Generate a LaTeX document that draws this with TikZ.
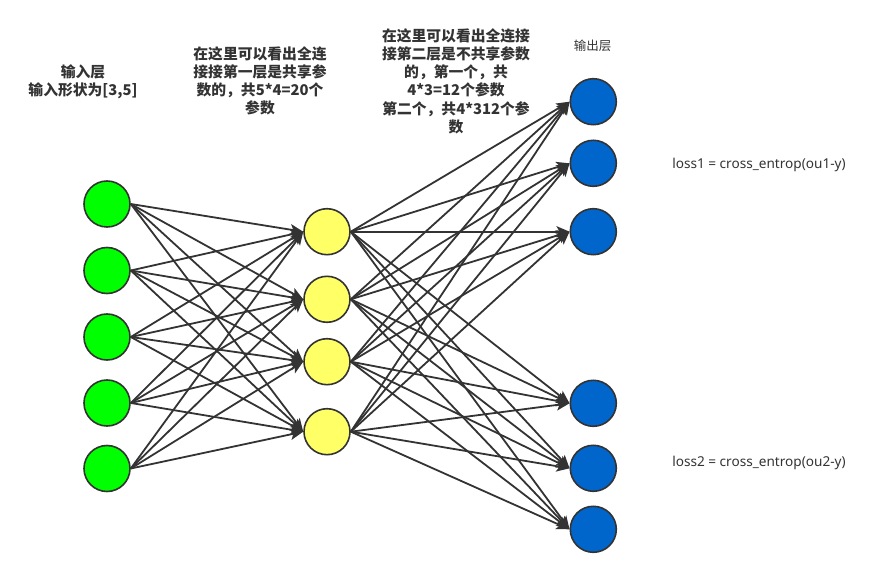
\documentclass[tikz,border=0pt]{standalone}
\usepackage{fontspec}
\setmainfont{Noto Sans CJK SC}
\newfontfamily\lossfont{Noto Sans}
\usetikzlibrary{arrows.meta}
\definecolor{edgec}{HTML}{333333}
\definecolor{inc}{HTML}{00FF00}
\definecolor{hidc}{HTML}{FFFF66}
\definecolor{outc}{HTML}{0066CC}
\tikzset{
  neuron/.style={circle, draw=edgec, line width=1.6pt, minimum size=46pt, inner sep=0pt},
  innode/.style={neuron, fill=inc},
  hidnode/.style={neuron, fill=hidc},
  outnode/.style={neuron, fill=outc},
  conn/.style={draw=edgec, line width=1.8pt, -{Stealth[length=13pt,width=11pt,inset=3pt]}},
  boldlabel/.style={align=center, text=edgec, font=\fontsize{14.8pt}{18.2pt}\selectfont\bfseries, inner sep=0pt},
  plainlabel/.style={text=edgec, inner sep=0pt},
}
\begin{document}
\begin{tikzpicture}[x=1pt,y=-1pt]
\useasboundingbox (0,0) rectangle (892,577);
% input layer
\foreach \i/\y in {1/204, 2/270.5, 3/337, 4/403, 5/468.5} {
  \node[innode] (i\i) at (107,\y) {};
}
% hidden layer
\foreach \j/\y in {1/231.7, 2/299.3, 3/361.7, 4/431.7} {
  \node[hidnode] (h\j) at (327,\y) {};
}
% output layer
\foreach \k/\y in {1/101.7, 2/163.3, 3/231.7, 4/403.3, 5/468.3, 6/529.3} {
  \node[outnode] (o\k) at (593.3,\y) {};
}
% connections
\foreach \i in {1,...,5} {
  \foreach \j in {1,...,4} {
    \draw[conn] (i\i.east) -- (h\j.west);
  }
}
\foreach \j in {1,...,4} {
  \foreach \k in {1,...,6} {
    \draw[conn] (h\j.east) -- (o\k.west);
  }
}
% labels
\node[boldlabel] (t1) at (83,81.7) {输入层\\输入形状为[3,5]};
\node[boldlabel] (t2) at (260,80.8) {在这里可以看出全连\\接接第一层是共享参\\数的，共5*4=20个\\参数};
\node[boldlabel] (t3) at (456,81.2) {在这里可以看出全连接\\接第二层是不共享参数\\的，第一个，共\\4*3=12个参数\\第二个，共4*312个参\\数};
\node[plainlabel, font=\fontsize{12.5pt}{15pt}\selectfont] (t4) at (592.5,45.7) {输出层};
\node[plainlabel, font=\lossfont\fontsize{13.6pt}{16pt}\selectfont] (l1) at (759,165) {loss1 = cross\_entrop(ou1-y)};
\node[plainlabel, font=\lossfont\fontsize{13.6pt}{16pt}\selectfont] (l2) at (759,463.3) {loss2 = cross\_entrop(ou2-y)};
\end{tikzpicture}
\end{document}
